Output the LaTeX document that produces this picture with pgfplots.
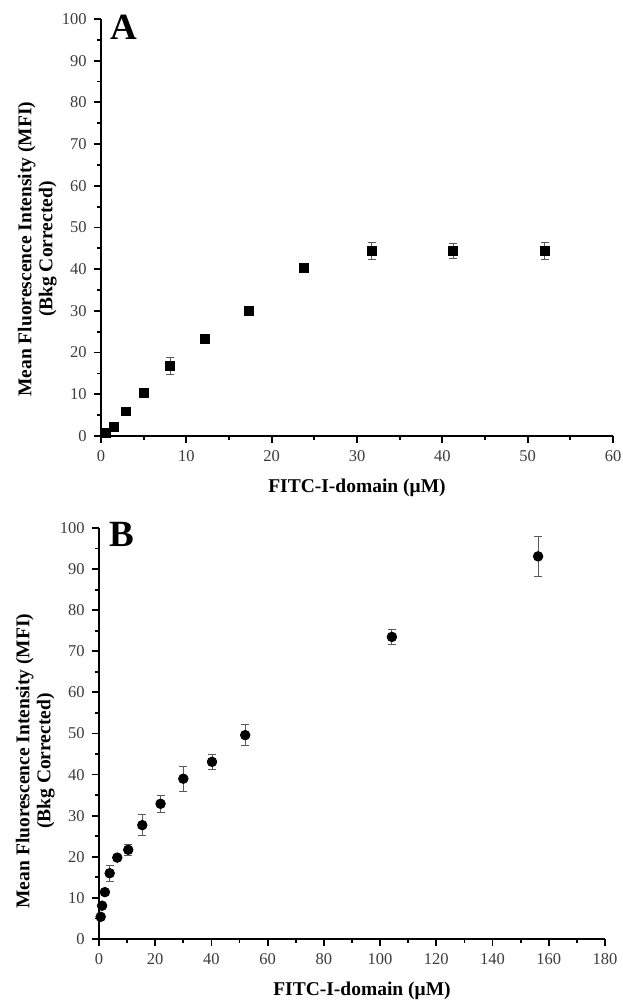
\documentclass[border=0pt]{standalone}
\usepackage{pgfplots}
\pgfplotsset{compat=1.18}
\usepackage{fontspec}
\setmainfont{Liberation Serif}

\pgfplotstableread{
x y e
0.6 0.8 0
1.5 2.2 0
2.9 5.9 0
5.0 10.4 0
8.1 16.8 2.0
12.15 23.3 0
17.3 30.0 0
23.8 40.4 0
31.75 44.4 2.1
41.25 44.4 1.8
52.0 44.4 2.0
}\dataA

\pgfplotstableread{
x y e
0.6 5.4 0
1.1 8.1 0
2.1 11.4 0
3.8 16.0 2.0
6.5 19.8 0
10.4 21.7 1.4
15.4 27.7 2.5
21.9 32.9 2.1
30.0 39.0 3.0
40.2 43.1 1.8
52.0 49.6 2.6
104.2 73.5 1.8
156.2 93.1 4.8
}\dataB

\definecolor{errgray}{RGB}{90,90,90}
\definecolor{tickgray}{RGB}{60,60,60}

\pgfplotsset{
  panel/.style={
    scale only axis,
    axis lines=left,
    axis line style={-, line width=1pt, black},
    tick align=outside,
    major tick length=3.5pt,
    minor tick length=2pt,
    every tick/.style={black, line width=0.9pt},
    minor x tick num=1,
    minor y tick num=1,
    ymin=0, ymax=100,
    ytick distance=10,
    /pgf/number format/assume math mode=true,
    ticklabel style={font=\fontsize{8.25}{10}\selectfont, text=tickgray},
    xticklabel style={inner sep=0pt, anchor=north, yshift=-3.5pt},
    yticklabel style={inner sep=0pt, anchor=east, xshift=-3.5pt},
    xlabel style={at={(axis description cs:0.5,0)}, anchor=north, inner sep=0pt, yshift=-21.5pt,
      font=\bfseries\fontsize{9.75}{11}\selectfont},
    ylabel style={anchor=south, inner sep=0pt, align=center,
      font=\bfseries\fontsize{9.75}{10.5}\selectfont},
    clip=false,
  },
  errs/.style={
    only marks,
    error bars/y dir=both,
    error bars/y explicit,
    error bars/error bar style={errgray, line width=0.5pt},
    error bars/error mark options={errgray, rotate=90, mark size=2pt, line width=0.5pt},
  },
}

\begin{document}
\begin{tikzpicture}
\useasboundingbox (0,0) rectangle (311pt,500pt);
\begin{axis}[panel,
  at={(50.5pt,282pt)}, anchor=south west,
  width=256pt, height=208.5pt,
  xmin=0, xmax=60, xtick distance=10,
  xlabel={FITC-I-domain (μM)},
  ylabel={Mean Fluorescence Intensity (MFI)\\(Bkg Corrected)},
  ylabel style={at={(axis description cs:0,0.448)}, yshift=22pt},
]
\addplot+[errs, mark=square*, mark size=2.2pt, mark options={black, fill=black}]
  table[x=x, y=y, y error=e] {\dataA};
\node[anchor=north west, inner sep=0pt, font=\bfseries\fontsize{18.5}{20}\selectfont]
  at (rel axis cs:0,1) [xshift=4.5pt, yshift=2pt] {A};
\end{axis}

\begin{axis}[panel,
  at={(49.5pt,30.5pt)}, anchor=south west,
  width=253pt, height=205.5pt,
  xmin=0, xmax=180, xtick distance=20,
  xlabel={FITC-I-domain (μM)},
  xlabel style={xshift=5pt},
  ylabel={Mean Fluorescence Intensity (MFI)\\(Bkg Corrected)},
  ylabel style={at={(axis description cs:0,0.433)}, yshift=22pt},
]
\addplot+[errs, mark=*, mark size=2.4pt, mark options={black, fill=black}]
  table[x=x, y=y, y error=e] {\dataB};
\node[anchor=north west, inner sep=0pt, font=\bfseries\fontsize{18.5}{20}\selectfont]
  at (rel axis cs:0,1) [xshift=5pt, yshift=3pt] {B};
\end{axis}
\end{tikzpicture}
\end{document}
